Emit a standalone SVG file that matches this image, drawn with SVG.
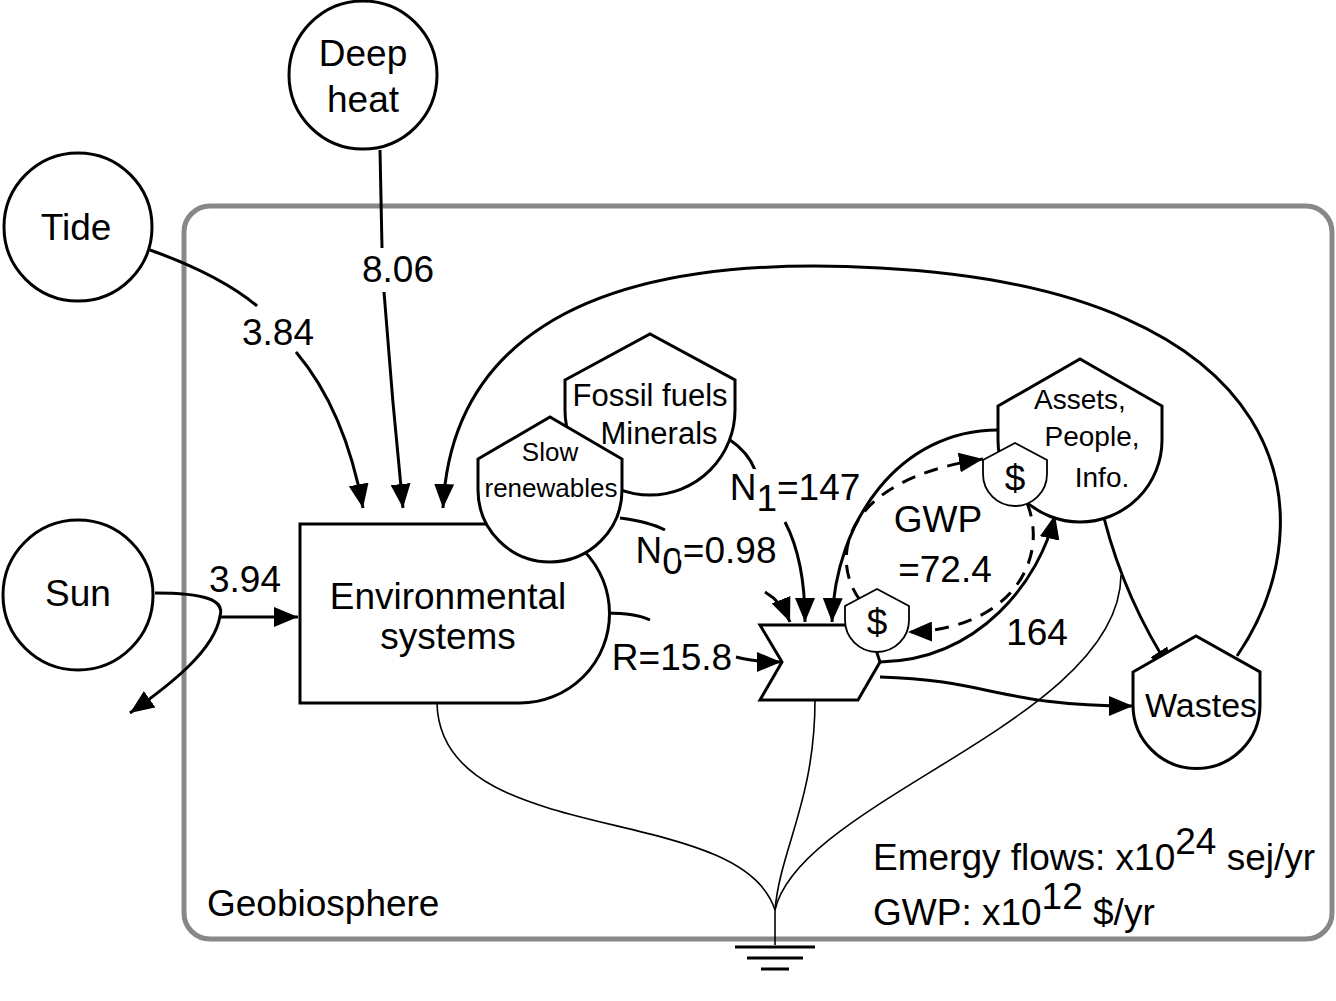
<svg xmlns="http://www.w3.org/2000/svg" width="1336" height="1001" viewBox="0 0 1336 1001">
<style>
.n{fill:#fff;stroke:#000;stroke-width:3}
.t{font-family:"Liberation Sans",Arial,sans-serif;fill:#000;text-anchor:middle;font-size:37px}
.h{stroke:#fff;stroke-width:10;paint-order:stroke;stroke-linejoin:round}
.c{fill:none;stroke:#000;stroke-width:3}
.th{fill:none;stroke:#000;stroke-width:1.6}
.d{fill:none;stroke:#000;stroke-width:3;stroke-dasharray:14 10}
</style>
<defs>
<marker id="b" viewBox="0 0 12 10" refX="12" refY="5" markerWidth="24" markerHeight="20" markerUnits="userSpaceOnUse" orient="auto">
<path d="M0,0 L12,5 L0,10 Z" fill="#000"/>
</marker>
</defs>
<rect x="0" y="0" width="1336" height="1001" fill="#fff"/>
<rect x="184" y="206" width="1148" height="733" rx="26" fill="none" stroke="#888" stroke-width="5"/>
<text class="t" x="207" y="916" style="text-anchor:start">Geobiosphere</text>
<text class="t" x="873" y="870" style="text-anchor:start">Emergy flows: x10<tspan dy="-16">24</tspan><tspan dy="16"> sej/yr</tspan></text>
<text class="t" x="873" y="925" style="text-anchor:start">GWP: x10<tspan dy="-16">12</tspan><tspan dy="16"> $/yr</tspan></text>

<g id="connectors">
<path class="c" d="M380,150 L382,248"/>
<path class="c" d="M384,292 Q392,400 403,508" marker-end="url(#b)"/>
<path class="c" d="M150,250 Q220,275 257,306"/>
<path class="c" d="M296,352 Q345,410 363,508" marker-end="url(#b)"/>
<path class="c" d="M155,593 C205,593 225,600 220,616 C215,650 170,685 130,713" marker-end="url(#b)"/>
<path class="c" d="M220,617 L298,617" marker-end="url(#b)"/>
<path class="c" d="M1237,656 C1330,520 1300,290 880,268 C560,250 450,360 443,508" marker-end="url(#b)"/>
<path class="c" d="M620,518 Q650,522 665,530"/>
<path class="c" d="M765,592 Q782,602 790,622" marker-end="url(#b)"/>
<path class="c" d="M730,440 Q748,452 755,470"/>
<path class="c" d="M785,522 Q805,560 805,622" marker-end="url(#b)"/>
<path class="c" d="M607,613 Q635,613 650,620"/>
<path class="c" d="M736,657 Q755,662 781,662" marker-end="url(#b)"/>
<path class="c" d="M998,430 C900,430 835,520 832,622" marker-end="url(#b)"/>
<path class="c" d="M880,662 C980,660 1040,580 1055,515" marker-end="url(#b)"/>
<path class="d" d="M860,600 C830,560 840,480 983,459" marker-end="url(#b)"/>
<path class="d" d="M1027,503 C1050,560 1010,630 908,632" marker-end="url(#b)"/>
<path class="c" d="M880,677 C990,680 1000,706 1133,706" marker-end="url(#b)"/>
<path class="c" d="M1104,518 Q1125,600 1172,672" marker-end="url(#b)"/>
<path class="th" d="M437,703 C440,850 740,800 775,910"/>
<path class="th" d="M815,700 C815,800 780,850 775,910"/>
<path class="th" d="M1121,575 C1120,720 800,800 775,910"/>
<path class="th" d="M775,910 L775,945"/>
<path class="c" d="M735,947 H815 M747,958 H803 M761,969 H789" stroke-width="2.5"/>
</g>
<g id="labels">
<text class="t h" x="398" y="282">8.06</text>
<text class="t h" x="278" y="345">3.84</text>
<text class="t h" x="245" y="592">3.94</text>
<text class="t h" x="672" y="670">R=15.8</text>
<text class="t h" x="706" y="563">N<tspan dy="11">0</tspan><tspan dy="-11">=0.98</tspan></text>
<text class="t h" x="795" y="500">N<tspan dy="11">1</tspan><tspan dy="-11">=147</tspan></text>
<text class="t" x="938" y="532">GWP</text>
<text class="t" x="945" y="582">=72.4</text>
<text class="t" x="1037" y="645">164</text>
</g>

<g id="deep-heat"><circle class="n" cx="363" cy="75" r="74"/><text class="t" x="363" y="66">Deep</text><text class="t" x="363" y="112">heat</text></g>
<g id="tide"><circle class="n" cx="78" cy="227" r="74"/><text class="t" x="76" y="240">Tide</text></g>
<g id="sun"><circle class="n" cx="78" cy="595" r="75"/><text class="t" x="78" y="606">Sun</text></g>
<g id="env"><path class="n" d="M300,524 H520 A89,89 0 0 1 520,703 H300 Z"/><text class="t" x="448" y="609">Environmental</text><text class="t" x="448" y="649">systems</text></g>
<g id="fossil"><path class="n" d="M565,380 L650,334 L735,380 V410 A85,85 0 0 1 565,410 Z"/><text class="t" x="650" y="406" style="font-size:31px">Fossil fuels</text><text class="t" x="659" y="444" style="font-size:31px">Minerals</text></g>
<g id="slow"><path class="n" d="M478,459 L550,417 L622,459 V490 A72,72 0 0 1 478,490 Z"/><text class="t" x="550" y="461" style="font-size:26px">Slow</text><text class="t" x="551" y="497" style="font-size:26px">renewables</text></g>
<g id="assets"><path class="n" d="M998,406 L1080,359 L1162,406 V440 A82,82 0 0 1 998,440 Z"/><text class="t" x="1080" y="409" style="font-size:28px">Assets,</text><text class="t" x="1092" y="446" style="font-size:28px">People,</text><text class="t" x="1102" y="487" style="font-size:28px">Info.</text></g>
<g id="wastes"><path class="n" d="M1133,672 L1196,636 L1260,672 V705 A63.5,63.5 0 0 1 1133,705 Z"/><text class="t" x="1201" y="717" style="font-size:34px">Wastes</text></g>
<g id="workgate"><path class="n" d="M760,625 H868 L880,662 L858,700 H760 L782,662 Z"/></g>
<g id="dollar-low"><path class="n" style="stroke-width:1.8" d="M845,606 L877,589 L909,606 V620 A32,32 0 0 1 845,620 Z"/><text class="t" x="877" y="635">$</text></g>
<g id="dollar-up"><path class="n" style="stroke-width:1.8" d="M983,460 L1015,443 L1047,460 V474 A32,32 0 0 1 983,474 Z"/><text class="t" x="1015" y="491">$</text></g>
</svg>
